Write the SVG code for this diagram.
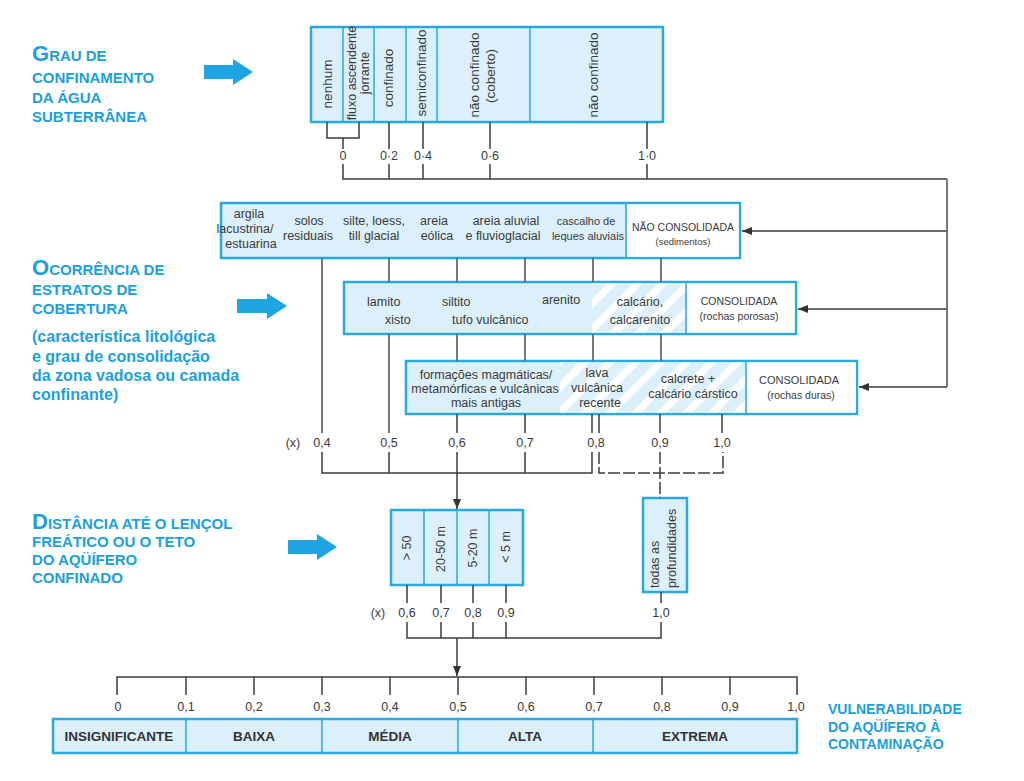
<svg xmlns="http://www.w3.org/2000/svg" width="1024" height="781" viewBox="0 0 1024 781">
<defs>
<style>
text{font-family:"Liberation Sans",Arial,sans-serif;fill:#3a3a3a}
.ttl{font-weight:bold;fill:#1c9fda;font-size:15px}
.sub{font-weight:bold;fill:#1c9fda;font-size:16px}
.big{font-size:22px}
.box{fill:#dcf0fb;stroke:#29a9e1;stroke-width:2.5}
.wh{fill:#ffffff}
.dv{stroke:#29a9e1;stroke-width:1.5;fill:none}
.ln{stroke:#3c3c3c;stroke-width:1.5;fill:none}
.gl{stroke:#6a6a6a;stroke-width:1.8;fill:none}
.dash{stroke:#3c3c3c;stroke-width:1.5;fill:none;stroke-dasharray:12 3}
.m{text-anchor:middle}
.bt{font-size:12.5px}
.rt{font-size:13.5px;text-anchor:middle}
.lb{font-size:12.5px;text-anchor:middle}
.sm{font-size:10.5px;text-anchor:middle}
.sc{font-size:13.5px;font-weight:bold;text-anchor:middle;fill:#333}
.bar{fill:#1ea4e1}
</style>
<pattern id="hatch" width="18" height="18" patternUnits="userSpaceOnUse" patternTransform="rotate(45)">
<rect width="18" height="18" fill="#dcf0fb"/>
<rect width="7" height="18" fill="#ffffff"/>
</pattern>
<marker id="ah" markerWidth="10" markerHeight="8" refX="10" refY="4" orient="auto" markerUnits="userSpaceOnUse">
<path d="M0,0 L10,4 L0,8 z" fill="#333"/>
</marker>
</defs>
<rect width="1024" height="781" fill="#ffffff"/>

<g id="title-grau">
<text class="ttl" x="32" y="61"><tspan class="big">G</tspan>RAU DE</text>
<text class="ttl" x="32" y="83">CONFINAMENTO</text>
<text class="ttl" x="32" y="103">DA ÁGUA</text>
<text class="ttl" x="32" y="122">SUBTERRÂNEA</text>
<path class="bar" d="M204,65 H233 V59 L253,72 L233,85 V79 H204 Z"/>
</g>

<g id="title-ocorrencia">
<text class="ttl" x="32" y="275"><tspan class="big">O</tspan>CORRÊNCIA DE</text>
<text class="ttl" x="32" y="295">ESTRATOS DE</text>
<text class="ttl" x="32" y="314">COBERTURA</text>
<text class="sub" x="32" y="342">(característica litológica</text>
<text class="sub" x="32" y="362">e grau de consolidação</text>
<text class="sub" x="32" y="381">da zona vadosa ou camada</text>
<text class="sub" x="32" y="400">confinante)</text>
<path class="bar" d="M237,299 H267 V293 L287,306 L267,319 V313 H237 Z"/>
</g>

<g id="title-distancia">
<text class="ttl" x="32" y="529"><tspan class="big">D</tspan>ISTÂNCIA ATÉ O LENÇOL</text>
<text class="ttl" x="32" y="547">FREÁTICO OU O TETO</text>
<text class="ttl" x="32" y="565">DO AQÜÍFERO</text>
<text class="ttl" x="32" y="583">CONFINADO</text>
<path class="bar" d="M288,540 H317 V534 L337,547 L317,560 V554 H288 Z"/>
</g>

<g id="box-confinamento">
<rect class="box" x="311" y="27" width="352" height="95"/>
<path class="dv" d="M343,27 V122 M374,27 V122 M406,27 V122 M437,27 V122 M530,27 V122"/>
<text class="rt" transform="translate(332,84) rotate(-90)">nenhum</text>
<text class="bt m" transform="translate(356,73) rotate(-90)">fluxo ascendente</text>
<text class="bt m" transform="translate(369,73) rotate(-90)">jorrante</text>
<text class="rt" transform="translate(393,78) rotate(-90)">confinado</text>
<text class="rt" transform="translate(426,73) rotate(-90)">semiconfinado</text>
<text class="rt" transform="translate(479,75) rotate(-90)">não confinado</text>
<text class="rt" transform="translate(495,76) rotate(-90)">(coberto)</text>
<text class="rt" transform="translate(598,75) rotate(-90)">não confinado</text>
</g>

<g id="box-nao-consolidada">
<rect class="box" x="221" y="203" width="519" height="55"/>
<rect class="wh" x="627" y="204.3" width="111.7" height="52.4"/>
<path class="dv" d="M626,203 V258"/>
<text class="bt m" x="249" y="218">argila</text>
<text class="bt m" x="245" y="233">lacustrina/</text>
<text class="bt m" x="251" y="248">estuarina</text>
<text class="bt m" x="309" y="225">solos</text>
<text class="bt m" x="308" y="240">residuais</text>
<text class="bt m" x="374" y="225">silte, loess,</text>
<text class="bt m" x="374" y="240">till glacial</text>
<text class="bt m" x="434" y="225">areia</text>
<text class="bt m" x="437" y="240">eólica</text>
<text class="bt m" x="506" y="225">areia aluvial</text>
<text class="bt m" x="503" y="240">e fluvioglacial</text>
<text class="m" font-size="11" x="586" y="225">cascalho de</text>
<text class="m" font-size="11" x="588" y="240">leques aluviais</text>
<text class="sm" x="683" y="231">NÃO CONSOLIDADA</text>
<text class="m" font-size="9.5" x="683" y="245">(sedimentos)</text>
</g>

<g id="box-consolidada-porosas">
<rect class="box" x="344" y="282" width="452" height="52"/>
<rect x="592" y="283.3" width="94" height="49.4" fill="url(#hatch)"/>
<rect class="wh" x="687" y="283.3" width="107.7" height="49.4"/>
<path class="dv" d="M686,282 V334"/>
<text class="bt" x="367" y="306">lamito</text>
<text class="bt" x="385" y="324">xisto</text>
<text class="bt" x="442" y="306">siltito</text>
<text class="bt" x="452" y="324">tufo vulcânico</text>
<text class="bt" x="542" y="304">arenito</text>
<text class="bt m" x="640" y="306">calcário,</text>
<text class="bt m" x="640" y="324">calcarenito</text>
<text class="sm" x="739" y="305">CONSOLIDADA</text>
<text class="sm" x="739" y="320">(rochas porosas)</text>
</g>

<g id="box-consolidada-duras">
<rect class="box" x="406" y="361" width="451" height="53"/>
<rect x="560" y="362.3" width="186" height="50.4" fill="url(#hatch)"/>
<rect class="wh" x="747" y="362.3" width="108.7" height="50.4"/>
<path class="dv" d="M746,361 V414"/>
<text class="bt m" x="486" y="379">formações magmáticas/</text>
<text class="bt m" x="485" y="393">metamórficas e vulcânicas</text>
<text class="bt m" x="486" y="407">mais antigas</text>
<text class="bt m" x="597" y="377">lava</text>
<text class="bt m" x="597" y="392">vulcânica</text>
<text class="bt m" x="600" y="407">recente</text>
<text class="bt m" x="688" y="383">calcrete +</text>
<text class="bt m" x="693" y="398">calcário cárstico</text>
<text class="m" font-size="11" x="799" y="384">CONSOLIDADA</text>
<text class="m" font-size="10.5" x="801" y="399">(rochas duras)</text>
</g>

<g id="box-distancia">
<rect class="box" x="391" y="510" width="132" height="75"/>
<path class="dv" d="M424,510 V585 M457,510 V585 M489,510 V585"/>
<text class="bt m" transform="translate(411,548) rotate(-90)">&gt; 50</text>
<text class="bt m" transform="translate(445,549) rotate(-90)">20-50 m</text>
<text class="bt m" transform="translate(477,548) rotate(-90)">5-20 m</text>
<text class="bt m" transform="translate(510,547) rotate(-90)">&lt; 5 m</text>
</g>

<g id="box-todas">
<rect class="box" x="643" y="498" width="44" height="94"/>
<text class="bt" transform="translate(659,588) rotate(-90)">todas as</text>
<text class="bt" transform="translate(676,588) rotate(-90)">profundidades</text>
</g>

<g id="scale-box">
<rect class="box" x="53" y="719" width="744" height="34"/>
<path class="dv" d="M186,719 V753 M322,719 V753 M458,719 V753 M593,719 V753"/>
<text class="sc" x="119" y="741">INSIGNIFICANTE</text>
<text class="sc" x="254" y="741">BAIXA</text>
<text class="sc" x="390" y="741">MÉDIA</text>
<text class="sc" x="525" y="741">ALTA</text>
<text class="sc" x="695" y="741">EXTREMA</text>
</g>

<g id="title-vulnerabilidade">
<text class="ttl" x="828" y="714" style="font-size:14px">VULNERABILIDADE</text>
<text class="ttl" x="828" y="731.5" style="font-size:14px">DO AQÜÍFERO À</text>
<text class="ttl" x="828" y="749" style="font-size:14px">CONTAMINAÇÃO</text>
</g>

<g id="labels">
<text class="lb" x="343" y="160">0</text>
<text class="lb" x="389" y="160">0·2</text>
<text class="lb" x="423" y="160">0·4</text>
<text class="lb" x="490" y="160">0·6</text>
<text class="lb" x="647" y="160">1·0</text>
<text class="lb" x="293" y="447">(x)</text>
<text class="lb" x="322" y="447">0,4</text>
<text class="lb" x="389" y="447">0,5</text>
<text class="lb" x="457" y="447">0,6</text>
<text class="lb" x="525" y="447">0,7</text>
<text class="lb" x="596" y="447">0,8</text>
<text class="lb" x="660" y="447">0,9</text>
<text class="lb" x="722" y="447">1,0</text>
<text class="lb" x="378" y="617">(x)</text>
<text class="lb" x="407" y="617">0,6</text>
<text class="lb" x="441" y="617">0,7</text>
<text class="lb" x="473" y="617">0,8</text>
<text class="lb" x="506" y="617">0,9</text>
<text class="lb" x="661" y="617">1,0</text>
<text class="lb" x="118" y="711">0</text>
<text class="lb" x="186" y="711">0,1</text>
<text class="lb" x="254" y="711">0,2</text>
<text class="lb" x="322" y="711">0,3</text>
<text class="lb" x="390" y="711">0,4</text>
<text class="lb" x="458" y="711">0,5</text>
<text class="lb" x="526" y="711">0,6</text>
<text class="lb" x="594" y="711">0,7</text>
<text class="lb" x="662" y="711">0,8</text>
<text class="lb" x="730" y="711">0,9</text>
<text class="lb" x="796" y="711">1,0</text>
</g>

<g id="connectors">
<path class="ln" d="M327,122 V138 H359 V122 M343,138 V149 M343,164 V179 H947"/>
<path class="gl" d="M947,179 V387"/>
<path class="ln" d="M389,122 V149 M389,164 V179 M423,122 V149 M423,164 V179 M647,122 V149 M647,164 V179"/>
<path class="ln" stroke-width="2.4" d="M490,122 V149 M490,164 V179"/>
<path class="gl" d="M947,231 H742" marker-end="url(#ah)"/>
<path class="gl" d="M947,309 H798" marker-end="url(#ah)"/>
<path class="gl" d="M947,387 H859" marker-end="url(#ah)"/>
<path class="gl" d="M322,258 V433 M389,258 V282 M389,334 V433 M457,258 V282 M457,334 V361 M525,258 V282 M525,334 V361 M593,258 V282 M593,334 V361 M661,258 V282 M661,334 V361"/>
<path class="ln" d="M457,414 V433 M525,414 V433 M592,414 V433 M599,414 V433 M660,414 V433 M722,414 V433"/>
<path class="ln" d="M322,452 V473 H592 V452 M389,452 V473 M525,452 V473"/>
<path class="ln" d="M457,452 V509" marker-end="url(#ah)"/>
<path class="dash" d="M599,452 V473 H723 V452 M660,452 V498"/>
<path class="ln" d="M407,585 V603 M473,585 V603 M506,585 V603 M661,592 V603"/>
<path class="ln" stroke-width="2.4" d="M441,585 V603 M441,622 V638"/>
<path class="ln" d="M407,622 V638 H661 V622 M473,622 V638 M506,622 V638"/>
<path class="ln" d="M457,638 V676" marker-end="url(#ah)"/>
<path class="ln" d="M117,695 V677 H797 V695 M186,677 V695 M254,677 V695 M322,677 V695 M390,677 V695 M458,677 V695 M526,677 V695 M594,677 V695 M662,677 V695 M730,677 V695"/>
</g>
</svg>
